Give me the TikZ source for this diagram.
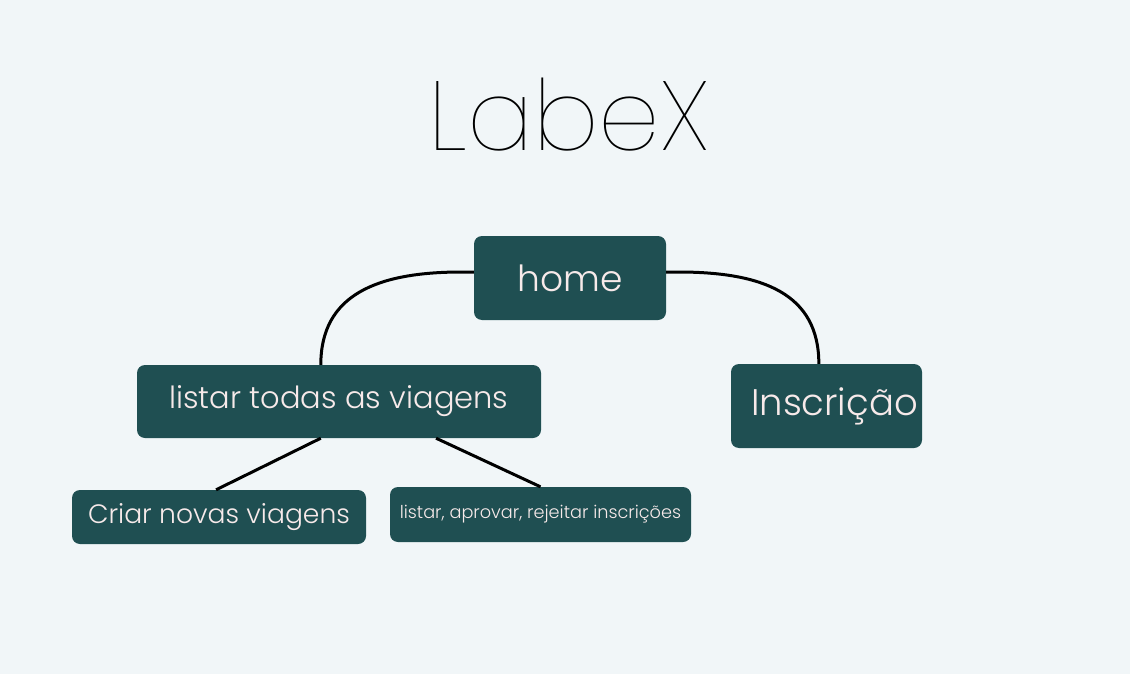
\documentclass[tikz,border=0pt]{standalone}
\usepackage{fontspec}
\setmainfont{Poppins}[UprightFont=* Light]
\newfontfamily\thinfont{Poppins Thin}
\usetikzlibrary{calc}
\definecolor{bg}{HTML}{F1F6F8}
\definecolor{boxfill}{HTML}{1F4F52}
\definecolor{boxtext}{HTML}{F7EAEA}
\tikzset{
  box/.style={draw=none, fill=boxfill, rounded corners=8pt, text=boxtext, inner sep=0pt, align=center},
  link/.style={draw=black, line width=3pt}
}
\begin{document}
\begin{tikzpicture}[x=1pt,y=-1pt]
\fill[bg] (0,0) rectangle (1130,674);
\useasboundingbox (0,0) rectangle (1130,674);
\node[anchor=base, font=\thinfont\fontsize{98}{100}\selectfont] (title) at (569,151) {LabeX};
\node[box, minimum width=192pt, minimum height=84pt, font=\fontsize{36}{40}\selectfont] (home) at (570,278) {home};
\node[box, minimum width=404pt, minimum height=73pt, font=\fontsize{30.5}{34}\selectfont] (listar) at (339,401.5) {listar todas as viagens};
\node[box, minimum width=191pt, minimum height=84pt, font=\fontsize{37}{40}\selectfont] (insc) at (826.5,406) {\hspace*{16pt}Inscrição};
\node[box, minimum width=294pt, minimum height=54pt, font=\fontsize{26.6}{30}\selectfont] (criar) at (219,517) {Criar novas viagens};
\node[box, minimum width=301pt, minimum height=55pt, font=\fontsize{17.7}{20}\selectfont] (rej) at (540.5,514.5) {listar, aprovar, rejeitar inscrições};
\coordinate (hl) at ($(home.west)+(0,-6)$);
\coordinate (hr) at ($(home.east)+(0,-6)$);
\coordinate (lt) at ($(listar.north west)!0.455!(listar.north east)$);
\coordinate (it) at ($(insc.north west)!0.46!(insc.north east)$);
\coordinate (lb1) at ($(listar.south west)!0.455!(listar.south east)$);
\coordinate (lb2) at ($(listar.south west)!0.74!(listar.south east)$);
\coordinate (ct) at ($(criar.north west)!0.49!(criar.north east)$);
\coordinate (rt) at ($(rej.north west)!0.50!(rej.north east)$);
\draw[link] (hl) -- ++(-12,0) .. controls +(-85,0) and +(0,-70) .. (lt);
\draw[link] (hr) -- ++(12,0) .. controls +(85,0) and +(0,-70) .. (it);
\draw[link] (lb1) -- (ct);
\draw[link] (lb2) -- (rt);
\end{tikzpicture}
\end{document}
